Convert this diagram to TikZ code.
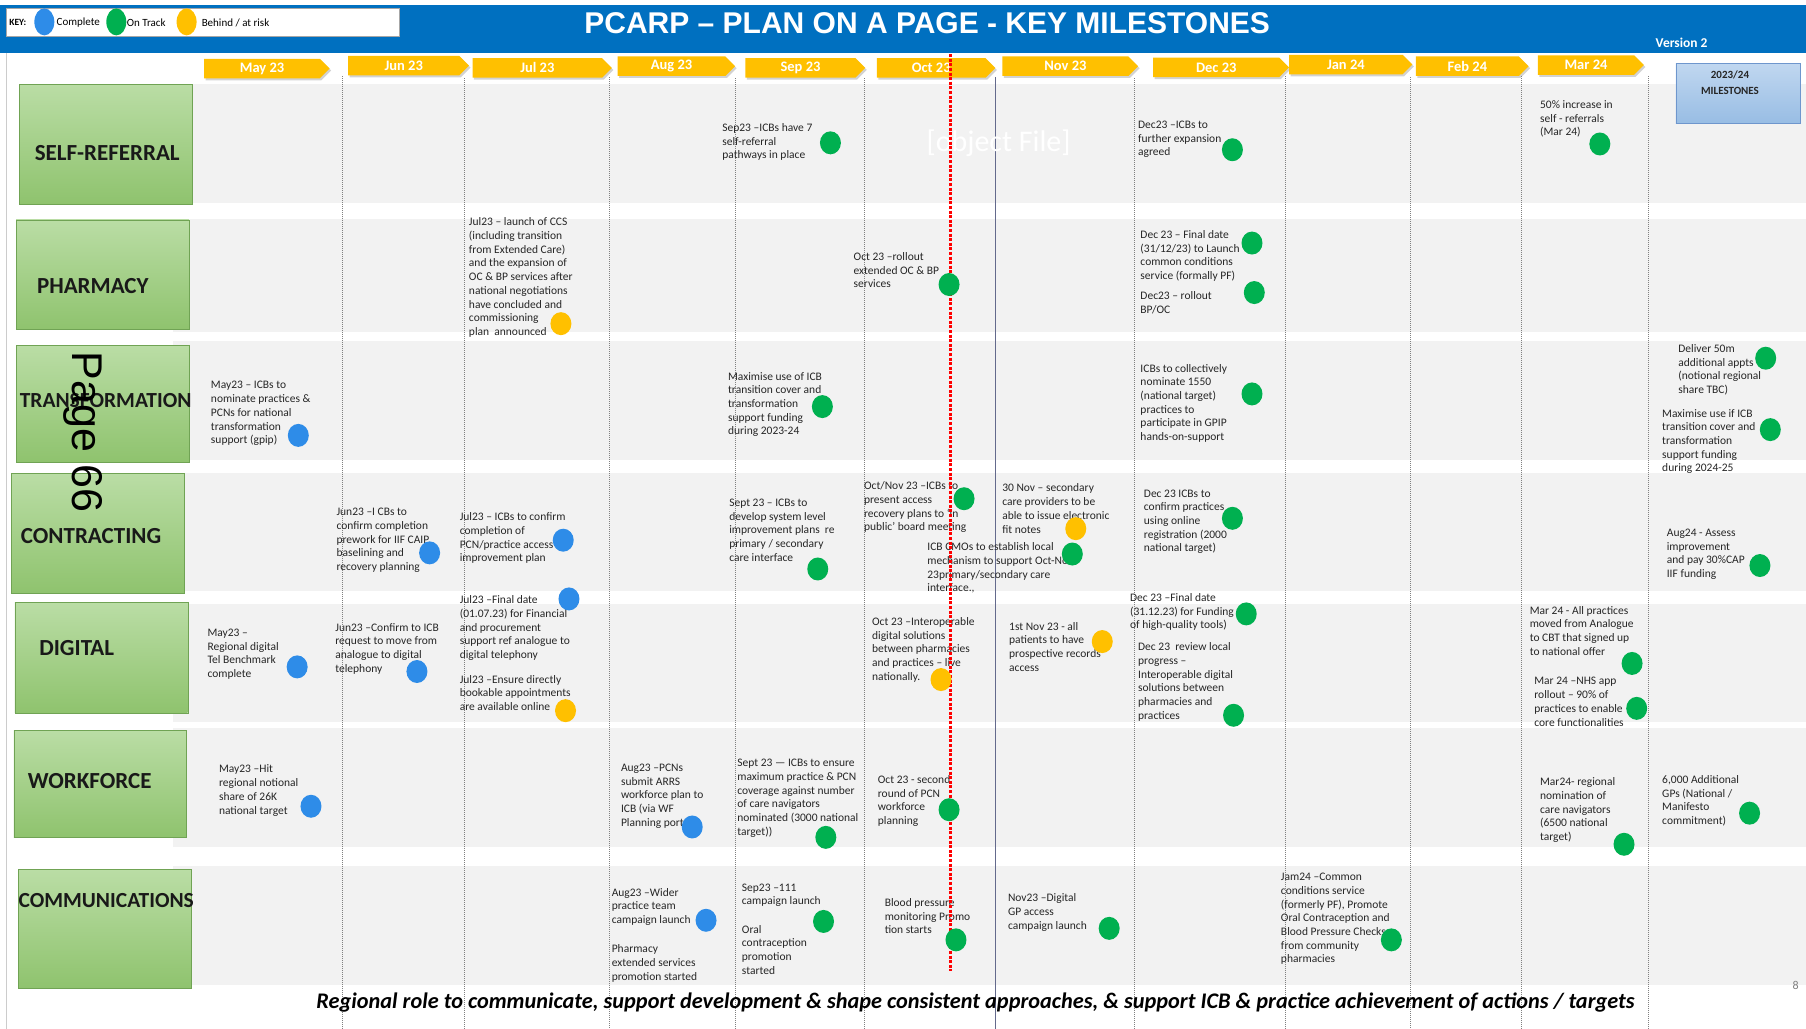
\documentclass[tikz,border=0pt]{standalone}
\usepackage{fontspec}
\setmainfont{Carlito}
\newfontfamily\arialfont{Liberation Sans}
\usetikzlibrary{positioning,shapes.geometric,shapes.symbols,shadows,fit}

\definecolor{hdrblue}{RGB}{0,112,192}
\definecolor{keyblue}{RGB}{46,140,232}
\definecolor{keygreen}{RGB}{0,176,80}
\definecolor{keyamber}{RGB}{255,192,0}
\definecolor{bandgrey}{RGB}{242,242,242}
\definecolor{themetop}{RGB}{186,221,165}
\definecolor{themebot}{RGB}{143,195,110}
\definecolor{themeline}{RGB}{112,163,84}
\definecolor{msttop}{RGB}{192,215,240}
\definecolor{mstbot}{RGB}{152,189,228}
\definecolor{mstline}{RGB}{110,150,205}
\definecolor{novline}{RGB}{100,106,140}

\begin{document}
\begin{tikzpicture}[
  x=1.152pt, y=-1.152pt,
  note/.style = {anchor=north west, inner sep=0pt, align=left, text=black!85, font=\fontsize{11.5}{13.7}\selectfont},
  dot/.style = {ellipse, minimum width=21pt, minimum height=23pt, inner sep=0pt},
  done/.style = {dot, fill=keyblue},
  ontrack/.style = {dot, fill=keygreen},
  atrisk/.style = {dot, fill=keyamber},
  month/.style = {signal, signal to=east, fill=keyamber, text=white, inner sep=0pt, minimum height=19.5pt,
    font=\bfseries\fontsize{14.5}{14.5}\selectfont, drop shadow={shadow xshift=1.5pt, shadow yshift=-2pt, opacity=.35}},
  band/.style = {fill=bandgrey},
  theme/.style = {draw=themeline, top color=themetop, bottom color=themebot, inner sep=0pt},
  themetext/.style = {anchor=west, inner sep=0pt, text=black!90, font=\bfseries\fontsize{23}{23}\selectfont},
  keytext/.style = {anchor=west, inner sep=0pt, font=\fontsize{11}{11}\selectfont},
  divider/.style = {gray, line width=0.6pt, dash pattern=on 1pt off 1pt},
  today/.style = {red, line width=3pt, dash pattern=on 3pt off 1.6pt}
  ]
	\useasboundingbox (0,0) rectangle (1568,893);
	\fill[white] (0,0) rectangle (1568,893);

	\fill[hdrblue] (0,4) rectangle (1568,46);
	\draw[gray!40] (5,46) -- (5,893);

	\node[draw=gray!70, fill=white, fit={(5,7) (347,31)}, inner sep=0pt] (key) {};
	\node[keytext, font=\bfseries\fontsize{9.5}{9.5}\selectfont] (keylbl) at (8,19.5) {KEY:};
	\node[dot, fill=keyblue, minimum width=20pt, minimum height=27pt] (keydone) at (38.5,19) {};
	\node[keytext] (keydonetxt) at (49,19.5) {Complete};
	\node[dot, fill=keygreen, minimum width=20pt, minimum height=27pt] (keytrack) at (101,19) {};
	\node[keytext] (keytracktxt) at (110,19.5) {On Track};
	\node[dot, fill=keyamber, minimum width=20pt, minimum height=27pt] (keyrisk) at (162,19) {};
	\node[keytext] (keyrisktxt) at (175,19.5) {Behind / at risk};

	\node[text=white, font=\arialfont\bfseries\fontsize{30}{30}\selectfont] (title) at (805,20) {PCARP – PLAN ON A PAGE - KEY MILESTONES};
	\node[text=white, font=\bfseries\fontsize{13.5}{13.5}\selectfont] (version) at (1460,37) {Version 2};

	\fill[band] (150,73) rectangle (1568,176);
	\fill[band] (150,190) rectangle (1568,288);
	\fill[band] (150,296) rectangle (1568,399);
	\fill[band] (150,411) rectangle (1568,513);
	\fill[band] (150,524) rectangle (1568,627);
	\fill[band] (150,632) rectangle (1568,735);
	\fill[band] (150,752) rectangle (1568,855);

	\node[theme, fit={(17,73) (167,177)}] (selfref) {};
	\node[theme, fit={(14,191) (164,286)}] (pharmacy) {};
	\node[theme, fit={(14,300) (164,401)}] (transform) {};
	\node[theme, fit={(10,411) (160,515)}] (contract) {};
	\node[theme, fit={(13,523) (163,619)}] (digital) {};
	\node[theme, fit={(12,634) (162,727)}] (workforce) {};
	\node[theme, fit={(16,755) (166,858)}] (comms) {};

	\node[themetext] (selfreftxt) at (30,133) {SELF-REFERRAL};
	\node[themetext] (pharmacytxt) at (32,248) {PHARMACY};
	\node[themetext, font=\bfseries\fontsize{21.5}{21.5}\selectfont] (transformtxt) at (17,348) {TRANSFORMATION};
	\node[themetext] (contracttxt) at (18,465) {CONTRACTING};
	\node[themetext] (digitaltxt) at (34,563) {DIGITAL};
	\node[themetext] (workforcetxt) at (24,678) {WORKFORCE};
	\node[themetext, font=\bfseries\fontsize{21.5}{21.5}\selectfont] (commstxt) at (16,782) {COMMUNICATIONS};

	\draw[divider] (297,66) -- (297,893);
	\draw[divider] (403,68) -- (403,893);
	\draw[divider] (529,67) -- (529,893);
	\draw[divider] (638,68) -- (638,893);
	\draw[divider] (750,68) -- (750,893);
	\draw[novline, line width=0.8pt] (864,67) -- (864,893);
	\draw[divider] (985,68) -- (985,893);
	\draw[divider] (1116,66) -- (1116,893);
	\draw[divider] (1224,67) -- (1224,893);
	\draw[divider] (1321,66) -- (1321,893);
	\draw[divider] (1431,66) -- (1431,893);

	\node[month, minimum width=125.6pt] (may) at (227.5,59.5) {May 23};
	\node[month, minimum width=121pt] (jun) at (350.5,57) {Jun 23};
	\node[month, minimum width=139.4pt] (jul) at (466.5,59) {Jul 23};
	\node[month, minimum width=117.5pt] (aug) at (583,57.5) {Aug 23};
	\node[month, minimum width=119.8pt] (sep) at (695,59) {Sep 23};
	\node[month, minimum width=118.7pt] (oct) at (808.5,59) {Oct 23};
	\node[month, minimum width=135.9pt] (nov) at (925,57.5) {Nov 23};
	\node[month, minimum width=135.9pt] (dec) at (1056,58.5) {Dec 23};
	\node[month, minimum width=123.3pt] (jan) at (1168.5,56) {Jan 24};
	\node[month, minimum width=112.9pt] (feb) at (1274,57.5) {Feb 24};
	\node[month, minimum width=106pt] (mar) at (1377,56.5) {Mar 24};

	\node[draw=mstline, top color=msttop, bottom color=mstbot, fit={(1455,55) (1563,107)}, inner sep=0pt] (mstbox) {};
	\node[anchor=north, inner sep=0pt, align=center, text=black!85, font=\bfseries\fontsize{11}{15.5}\selectfont] (msttxt) at (1502,61.5) {2023/24\\MILESTONES};

	\node[text=white, font=\fontsize{30}{30}\selectfont] (objfile) at (867,124) {[object File]};

	\node[note] (srsep) at (627,107) {Sep23 –ICBs have 7\\self-referral\\pathways in place};
	\node[note] (srdec) at (988,105) {Dec23 –ICBs to\\further expansion\\agreed};
	\node[note] (srmar) at (1337,87) {50\% increase in\\self - referrals\\(Mar 24)};

	\node[note] (phjul) at (407,189) {Jul23 – launch of CCS\\(including transition\\from Extended Care)\\and the expansion of\\OC \& BP services after\\national negotiations\\have concluded and\\commissioning\\plan\ \ announced};
	\node[note] (phoct) at (741,219) {Oct 23 –rollout\\extended OC \& BP\\services};
	\node[note] (phdeca) at (990,200) {Dec 23 – Final date\\(31/12/23) to Launch\\common conditions\\service (formally PF)};
	\node[note] (phdecb) at (990,253) {Dec23 – rollout\\BP/OC};

	\node[note] (trmay) at (183,331) {May23 – ICBs to\\nominate practices \&\\PCNs for national\\transformation\\support (gpip)};
	\node[note] (trsep) at (632,323) {Maximise use of ICB\\transition cover and\\transformation\\support funding\\during 2023-24};
	\node[note] (trdec) at (990,316) {ICBs to collectively\\nominate 1550\\(national target)\\practices to\\participate in GPIP\\hands-on-support};
	\node[note] (trmsta) at (1457,299) {Deliver 50m\\additional appts\\(notional regional\\share TBC)};
	\node[note] (trmstb) at (1443,355) {Maximise use if ICB\\transition cover and\\transformation\\support funding\\during 2024-25};

	\node[note] (cojun) at (292,441) {Jun23 –I CBs to\\confirm completion\\prework for IIF CAIP\\baselining and\\recovery planning};
	\node[note] (cojul) at (399,445) {Jul23 – ICBs to confirm\\completion of\\PCN/practice access\\improvement plan};
	\node[note] (cosep) at (633,433) {Sept 23 – ICBs to\\develop system level\\improvement plans\ \ re\\primary / secondary\\care interface};
	\node[note] (cooct) at (750,418) {Oct/Nov 23 –ICBs to\\present access\\recovery plans to ‘in\\public’ board meeting};
	\node[note] (conov) at (870,420) {30 Nov – secondary\\care providers to be\\able to issue electronic\\fit notes};
	\node[note] (cocmo) at (805,471) {ICB CMOs to establish local\\mechanism to support Oct-Nov\\23primary/secondary care\\interface.,};
	\node[note] (codec) at (993,425) {Dec 23 ICBs to\\confirm practices\\using online\\registration (2000\\national target)};
	\node[note] (comst) at (1447,459) {Aug24 - Assess\\improvement\\and pay 30\%CAP\\IIF funding};

	\node[note] (dimay) at (180,546) {May23 –\\Regional digital\\Tel Benchmark\\complete};
	\node[note] (dijun) at (291,541) {Jun23 –Confirm to ICB\\request to move from\\analogue to digital\\telephony};
	\node[note] (dijula) at (399,517) {Jul23 –Final date\\(01.07.23) for Financial\\and procurement\\support ref analogue to\\digital telephony};
	\node[note] (dijulb) at (399,586) {Jul23 –Ensure directly\\bookable appointments\\are available online};
	\node[note] (dioct) at (757,536) {Oct 23 –Interoperable\\digital solutions\\between pharmacies\\and practices – live\\nationally.};
	\node[note] (dinov) at (876,540) {1st Nov 23 - all\\patients to have\\prospective records\\access};
	\node[note] (dideca) at (981,515) {Dec 23 –Final date\\(31.12.23) for Funding\\of high-quality tools)};
	\node[note] (didecb) at (988,558) {Dec 23\ \ review local\\progress –\\Interoperable digital\\solutions between\\pharmacies and\\practices};
	\node[note] (dimara) at (1328,526) {Mar 24 - All practices\\moved from Analogue\\to CBT that signed up\\to national offer};
	\node[note] (dimarb) at (1332,588) {Mar 24 –NHS app\\rollout – 90\% of\\practices to enable\\core functionalities};

	\node[note] (wfmay) at (190,664) {May23 –Hit\\regional notional\\share of 26K\\national target};
	\node[note] (wfaug) at (539,663) {Aug23 –PCNs\\submit ARRS\\workforce plan to\\ICB (via WF\\Planning portal)};
	\node[note] (wfsep) at (640,659) {Sept 23 — ICBs to ensure\\maximum practice \& PCN\\coverage against number\\of care navigators\\nominated (3000 national\\target))};
	\node[note] (wfoct) at (762,673) {Oct 23 - second\\round of PCN\\workforce\\planning};
	\node[note] (wfmar) at (1337,675) {Mar24- regional\\nomination of\\care navigators\\(6500 national\\target)};
	\node[note] (wfmst) at (1443,673) {6,000 Additional\\GPs (National /\\Manifesto\\commitment)};

	\node[note] (cmauga) at (531,771) {Aug23 –Wider\\practice team\\campaign launch};
	\node[note] (cmaugb) at (531,820) {Pharmacy\\extended services\\promotion started};
	\node[note] (cmsepa) at (644,767) {Sep23 –111\\campaign launch};
	\node[note] (cmsepb) at (644,803) {Oral\\contraception\\promotion\\started};
	\node[note] (cmoct) at (768,780) {Blood pressure\\monitoring Promo\\tion starts};
	\node[note] (cmnov) at (875,776) {Nov23 –Digital\\GP access\\campaign launch};
	\node[note] (cmjan) at (1112,758) {Jam24 –Common\\conditions service\\(formerly PF), Promote\\Oral Contraception and\\Blood Pressure Checks\\from community\\pharmacies};

	\draw[today] (825,47) -- (825,843);

	\node[ontrack] (srsepdot) at (721,124) {};
	\node[ontrack] (srdecdot) at (1070,130) {};
	\node[ontrack] (srmardot) at (1389,125) {};
	\node[atrisk] (phjuldot) at (487,281) {};
	\node[ontrack] (phoctdot) at (824,247) {};
	\node[ontrack] (phdecadot) at (1087,211) {};
	\node[ontrack] (phdecbdot) at (1089,254) {};
	\node[done] (trmaydot) at (259,378) {};
	\node[ontrack] (trsepdot) at (714,353) {};
	\node[ontrack] (trdecdot) at (1087,342) {};
	\node[ontrack] (trmstadot) at (1533,311) {};
	\node[ontrack] (trmstbdot) at (1537,373) {};
	\node[done] (cojundot) at (373,480) {};
	\node[done] (cojuldot) at (489,469) {};
	\node[ontrack] (cosepdot) at (710,494) {};
	\node[ontrack] (cooctdot) at (837,433) {};
	\node[atrisk] (conovdot) at (934,459) {};
	\node[ontrack] (cocmodot) at (931,481) {};
	\node[ontrack] (codecdot) at (1070,450) {};
	\node[ontrack] (comstdot) at (1528,491) {};
	\node[done] (dimaydot) at (258,579) {};
	\node[done] (dijundot) at (362,583) {};
	\node[done] (dijuladot) at (494,520) {};
	\node[atrisk] (dijulbdot) at (491,617) {};
	\node[atrisk] (dioctdot) at (817,590) {};
	\node[atrisk] (dinovdot) at (957,557) {};
	\node[ontrack] (didecadot) at (1082,533) {};
	\node[ontrack] (didecbdot) at (1071,621) {};
	\node[ontrack] (dimaradot) at (1417,576) {};
	\node[ontrack] (dimarbdot) at (1421,615) {};
	\node[done] (wfmaydot) at (270,700) {};
	\node[done] (wfaugdot) at (601,718) {};
	\node[ontrack] (wfsepdot) at (717,727) {};
	\node[ontrack] (wfoctdot) at (824,703) {};
	\node[ontrack] (wfmardot) at (1410,733) {};
	\node[ontrack] (wfmstdot) at (1519,706) {};
	\node[done] (cmaugdot) at (613,799) {};
	\node[ontrack] (cmsepdot) at (715,800) {};
	\node[ontrack] (cmoctdot) at (830,816) {};
	\node[ontrack] (cmnovdot) at (963,806) {};
	\node[ontrack] (cmjandot) at (1208,816) {};

	\node[rotate=-90, font=\arialfont\fontsize{43}{43}\selectfont] (pagemark) at (72,375) {Page 66};

	\node[font=\bfseries\itshape\fontsize{22.3}{22.3}\selectfont] (footer) at (847,870) {Regional role to communicate, support development \& shape consistent approaches, \& support ICB \& practice achievement of actions / targets};
	\node[text=gray, font=\fontsize{12}{12}\selectfont] (slideno) at (1559,856) {8};
\end{tikzpicture}
\end{document}
